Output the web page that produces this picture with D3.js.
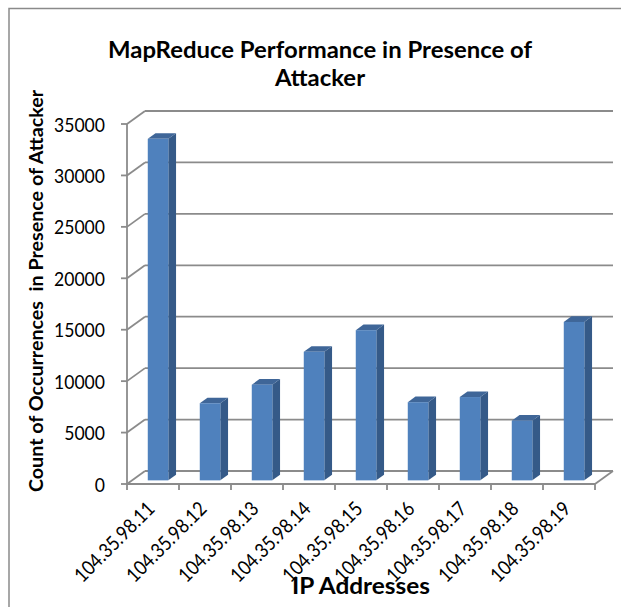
<!DOCTYPE html>
<html>
<head>
<meta charset="utf-8">
<script src="https://cdn.jsdelivr.net/npm/d3@7"></script>
<style>
  html, body { margin: 0; padding: 0; background: #ffffff; }
  svg { display: block; }
  text { font-family: Lato, "Open Sans", "Noto Sans", sans-serif; fill: #000; }
</style>
</head>
<body>
<script>
// Chart data
const categories = ["104.35.98.11", "104.35.98.12", "104.35.98.13", "104.35.98.14", "104.35.98.15",
                    "104.35.98.16", "104.35.98.17", "104.35.98.18", "104.35.98.19"];
const counts = [33200, 7500, 9300, 12500, 14600, 7600, 8100, 5800, 15400];
const yTicks = [0, 5000, 10000, 15000, 20000, 25000, 30000, 35000];
const titleLines = ["MapReduce Performance in Presence of", "Attacker"];
const yTitle = "Count of Occurrences\u00a0 in Presence of Attacker";
const xTitle = "IP Addresses";

const W = 621, H = 607;
const svg = d3.select("body").append("svg").attr("width", W).attr("height", H);

// Front plane of the 3-D plot box and its depth offset
const x0 = 127, x1 = 595, yBase = 484, yTop = 124;
const depthX = 18, depthY = -13;
const gridColor = "#8b8b8b";

const x = d3.scaleBand().domain(categories).range([x0, x1]).paddingInner(0).paddingOuter(0);
const y = d3.scaleLinear().domain([0, 35000]).range([yBase, yTop]);

// Set a font size and squeeze the glyphs horizontally by a ratio
function squeeze(sel, size, ratio) {
  sel.attr("font-size", size);
  const len = sel.node().getComputedTextLength();
  sel.attr("textLength", len * ratio).attr("lengthAdjust", "spacingAndGlyphs");
  return sel;
}
function ratioFor(sel, size, target) {
  sel.attr("font-size", size);
  return target / sel.node().getComputedTextLength();
}

// Outer frame (only top and left edges fall inside the view)
svg.append("rect").attr("x", 9).attr("y", 8.5).attr("width", 800).attr("height", 800)
  .attr("fill", "none").attr("stroke", "#8a8a8a").attr("stroke-width", 1.5);

// Title
const titleSize = 23.5;
const titles = titleLines.map((t, i) => svg.append("text").attr("x", 320).attr("y", 58 + i * 28)
  .attr("text-anchor", "middle").attr("font-weight", "bold").text(t));
const tRatio = ratioFor(titles[0], titleSize, 424);
titles.forEach(t => squeeze(t, titleSize, tRatio));

const g = svg.append("g");

// Back wall gridlines and side-wall diagonals
yTicks.forEach(v => {
  const yy = y(v);
  g.append("line").attr("x1", x0 + depthX).attr("x2", x1 + depthX)
    .attr("y1", yy + depthY).attr("y2", yy + depthY)
    .attr("stroke", gridColor).attr("stroke-width", 1.8);
  g.append("line").attr("x1", x0).attr("y1", yy).attr("x2", x0 + depthX).attr("y2", yy + depthY)
    .attr("stroke", gridColor).attr("stroke-width", 1.8);
});
// Floor right edge
g.append("line").attr("x1", x1).attr("y1", yBase).attr("x2", x1 + depthX).attr("y2", yBase + depthY)
  .attr("stroke", gridColor).attr("stroke-width", 1.8);

// Bars as prisms: front, side and top faces
const barFrac = 0.395;
const f0 = 0.28, f1 = 0.71;
const bars = g.append("g");
categories.forEach((c, i) => {
  const bw = x.bandwidth() * barFrac;
  const bl = x(c) + (x.bandwidth() - bw) / 2 + f0 * depthX;
  const br = bl + bw;
  const by0 = y(0) + f0 * depthY;
  const by1 = y(counts[i]) + f0 * depthY;
  const dx = (f1 - f0) * depthX, dy = (f1 - f0) * depthY;
  bars.append("path")
    .attr("d", `M${br},${by0} L${br + dx},${by0 + dy} L${br + dx},${by1 + dy} L${br},${by1} Z`)
    .attr("fill", "#355a88");
  bars.append("path")
    .attr("d", `M${bl},${by1} L${br},${by1} L${br + dx},${by1 + dy} L${bl + dx},${by1 + dy} Z`)
    .attr("fill", "#3f6698");
  bars.append("rect").attr("x", bl).attr("y", by1).attr("width", bw).attr("height", by0 - by1)
    .attr("fill", "#4f81bd");
});

// Value axis line, ticks and labels
g.append("line").attr("x1", x0).attr("x2", x0).attr("y1", yBase).attr("y2", yTop)
  .attr("stroke", gridColor).attr("stroke-width", 1.8);
const tickSize = 19.5;
const yLabels = [];
yTicks.forEach(v => {
  g.append("line").attr("x1", x0 - 6).attr("x2", x0).attr("y1", y(v)).attr("y2", y(v))
    .attr("stroke", gridColor).attr("stroke-width", 1.8);
  yLabels.push(g.append("text").attr("x", 105).attr("y", y(v))
    .attr("text-anchor", "end").attr("dominant-baseline", "central").text(v));
});
const kRatio = ratioFor(yLabels[yLabels.length - 1], tickSize, 51);
yLabels.forEach(t => squeeze(t, tickSize, kRatio));

// Category axis line, ticks and rotated labels
g.append("line").attr("x1", x0).attr("x2", x1).attr("y1", yBase).attr("y2", yBase)
  .attr("stroke", gridColor).attr("stroke-width", 1.8);
[...categories.map(c => x(c)), x1].forEach(xx => {
  g.append("line").attr("x1", xx).attr("x2", xx).attr("y1", yBase).attr("y2", yBase + 6)
    .attr("stroke", gridColor).attr("stroke-width", 1.8);
});
const xLabels = categories.map(c => {
  const px = x(c) + x.bandwidth() / 2 + 3, py = 510;
  return g.append("text").attr("transform", `translate(${px},${py}) rotate(-45)`)
    .attr("text-anchor", "end").text(c);
});
const xRatio = ratioFor(xLabels[0], 20, 104);
xLabels.forEach(t => squeeze(t, 20, xRatio));

// Axis titles
const yt = svg.append("text").attr("transform", "translate(43,291) rotate(-90)")
  .attr("text-anchor", "middle").attr("font-weight", "bold").text(yTitle);
squeeze(yt, 18.5, ratioFor(yt, 18.5, 402));
const xt = svg.append("text").attr("x", 361).attr("y", 594)
  .attr("text-anchor", "middle").attr("font-weight", "bold").text(xTitle);
squeeze(xt, 22, ratioFor(xt, 22, 138));
</script>
</body>
</html>
